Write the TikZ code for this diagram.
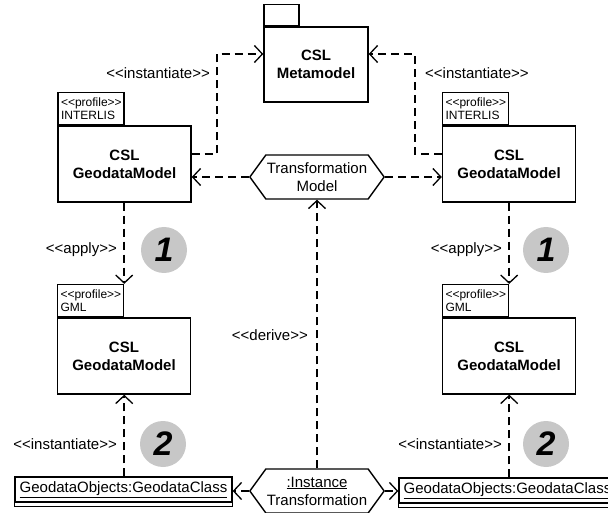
\documentclass[tikz,border=0pt]{standalone}
\usepackage{fontspec}
\setmainfont{Liberation Sans}[Ligatures=TeXOff]
\usepackage{tikz}
\usetikzlibrary{positioning}
\usetikzlibrary{arrows.meta,shapes}
\usetikzlibrary{calc}
\tikzstyle{package}=[rectangle,draw,line width=1.4pt,minimum width=133pt,minimum height=76pt,inner sep=0pt,align=center,font=\fontsize{15}{18}\selectfont\bfseries]
\tikzstyle{pkgtab}=[rectangle,draw,line width=1.4pt,minimum width=66pt,minimum height=32pt,inner xsep=3pt,inner ysep=1.5pt,text width=60pt,align=left,font=\fontsize{12}{13.5}\selectfont]
\tikzstyle{hexa}=[signal,signal to=west and east,signal pointer angle=108,draw,line width=1.4pt,minimum width=129pt,minimum height=44pt,inner sep=1pt,align=center,font=\fontsize{15}{18}\selectfont]
\tikzstyle{objbox}=[rectangle,draw,line width=1.3pt,minimum width=217pt,minimum height=25pt,inner sep=2pt,font=\fontsize{15}{18}\selectfont]
\tikzstyle{dep} = [draw,line width=1.5pt,dash pattern=on 8pt off 5pt,->,>={Straight Barb[length=8pt,width=17pt,line width=1.3pt]}]
\tikzstyle{stereo} = [inner sep=1pt,font=\fontsize{15}{18}\selectfont]
\tikzstyle{numball}=[circle,fill=black!22,minimum size=46pt,inner sep=0pt,font=\fontsize{34}{34}\selectfont\bfseries\itshape]
\newcommand{\stereotype}[1]{<{}<#1>{}>}

\begin{document}
\begin{tikzpicture}[x=1pt,y=1pt]
\useasboundingbox (0,0) rectangle (608,-513);
\clip (0,0) rectangle (608,-513);

    % packages with their tabs
    \node[package, minimum width=104pt, minimum height=75pt] (MM) at (316,-64.5) {CSL\\Metamodel};
    \node[pkgtab, minimum width=35pt, minimum height=21pt, text width=0pt, anchor=south west] (MM-tab) at (MM.north west) {};
    \foreach \pos/\name/\label in {{(124.5,-164)/P1/INTERLIS}, {(509,-164)/P2/INTERLIS}, {(124,-356)/G1/GML}, {(509,-356)/G2/GML}}
    {
        \node[package] (\name) at \pos {CSL\\GeodataModel};
        \node[pkgtab, anchor=south west] (\name-tab) at (\name.north west) {\stereotype{profile}\\\label};
    }

    % transformations and objects
    \node[hexa] (TM) at (317,-177) {Transformation\\Model};
    \node[hexa] (IT) at (317,-491) {\underline{:Instance}\\Transformation};
    \foreach \pos/\name in {{(123.5,-489.5)/O1}, {(507.5,-490.5)/O2}}
    {
        \node[objbox] (\name) at \pos {\underline{GeodataObjects:GeodataClass}};
        \draw[line width=1.3pt] (\name.south west) -- ++(0,-4) -| (\name.south east);
    }

    % dependencies
    \coordinate (k1) at (217,-54);
    \coordinate (k2) at (415,-54);
    \draw[dep] ([yshift=10pt]P1.east) -| (k1) -- (k1 -| MM.west);
    \draw[dep] ([yshift=10pt]P2.west) -| (k2) -- (k2 -| MM.east);
    \draw[dep] (TM.west) -- (TM.west -| P1.east);
    \draw[dep] (TM.east) -- (TM.east -| P2.west);
  \foreach \source/ \dest in {P1/G1, P2/G2}
          \draw[dep] (\source.south -| \dest-tab.north east) -- (\dest-tab.north east);
  \foreach \source/ \dest in {O1/G1, O2/G2}
          \draw[dep] (\source.north -| \dest-tab.east) -- (\dest.south -| \dest-tab.east);
    \draw[dep] (IT.north) -- (TM.south);
    \draw[dep] (IT.west) -- (IT.west -| O1.east);
    \draw[dep] (IT.east) -- (IT.east -| O2.west);

    % stereotype labels
\node[stereo, anchor=east] (l1) at (211,-73) {\stereotype{instantiate}};
\node[stereo, anchor=west] (l2) at (424,-73) {\stereotype{instantiate}};
\node[stereo, anchor=east] (l3) at (118,-250) {\stereotype{apply}};
\node[stereo, anchor=east] (l4) at (503,-250) {\stereotype{apply}};
\node[stereo, anchor=east] (l5) at (309,-335) {\stereotype{derive}};
\node[stereo, anchor=east] (l6) at (118,-444) {\stereotype{instantiate}};
\node[stereo, anchor=east] (l7) at (503,-444) {\stereotype{instantiate}};

    % step numbers
    \foreach \pos/\name/\label in {{(164,-250)/N1/1}, {(546,-250)/N2/1}, {(163,-444)/N3/2}, {(546,-444)/N4/2}}
        \node[numball] (\name) at \pos {\label};

\end{tikzpicture}
\end{document}
